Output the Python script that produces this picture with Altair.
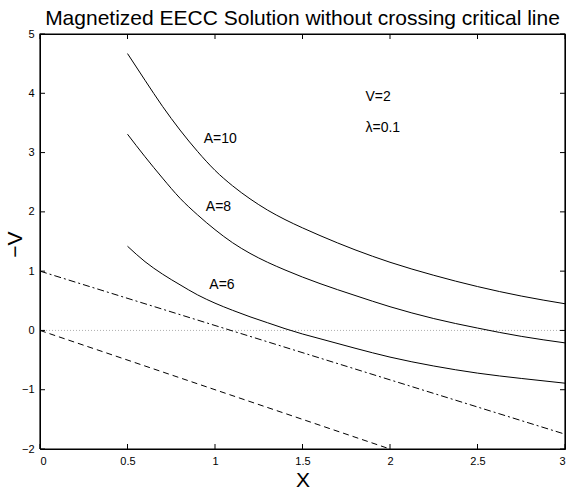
import altair as alt
import pandas as pd

# sample positions along X for the three solution curves
x_pts = [0.5, 0.6, 0.7, 0.8, 0.9, 1.0, 1.1, 1.2, 1.3, 1.4, 1.5, 1.6, 1.8, 2.0, 2.25, 2.5, 2.75, 3.0]
a10 = [4.67, 4.22, 3.78, 3.38, 3.02, 2.70, 2.44, 2.22, 2.03, 1.87, 1.73, 1.60, 1.36, 1.15, 0.93, 0.74, 0.58, 0.45]
a8 = [3.31, 2.93, 2.57, 2.23, 1.95, 1.70, 1.48, 1.30, 1.15, 1.02, 0.90, 0.79, 0.59, 0.40, 0.20, 0.04, -0.10, -0.21]
a6 = [1.42, 1.16, 0.95, 0.77, 0.60, 0.46, 0.34, 0.23, 0.13, 0.03, -0.06, -0.14, -0.30, -0.45, -0.60, -0.72, -0.81, -0.89]

# straight reference lines
dashdot_x = [0.0, 3.0]
dashdot_y = [1.0, -1.75]
dashed_x = [0.0, 2.0]
dashed_y = [0.0, -2.0]
zero_x = [0.0, 3.0]
zero_y = [0.0, 0.0]

# in-plot annotations
curve_labels = ["A=10", "A=8", "A=6"]
curve_label_x = [1.03, 1.02, 1.04]
curve_label_y = [3.23, 2.09, 0.76]
param_labels = ["V=2", "λ=0.1"]
param_label_x = [1.86, 1.86]
param_label_y = [3.93, 3.41]

x_ticks = [0, 0.5, 1, 1.5, 2, 2.5, 3]
y_ticks = [-2, -1, 0, 1, 2, 3, 4, 5]

FONT = "Liberation Sans"

curves = pd.DataFrame(
    [{"x": xv, "y": yv, "series": name}
     for name, ys in (("A=10", a10), ("A=8", a8), ("A=6", a6))
     for xv, yv in zip(x_pts, ys)]
)
dashdot = pd.DataFrame({"x": dashdot_x, "y": dashdot_y})
dashed = pd.DataFrame({"x": dashed_x, "y": dashed_y})
zero = pd.DataFrame({"x": zero_x, "y": zero_y})
curve_text = pd.DataFrame({"x": curve_label_x, "y": curve_label_y, "t": curve_labels})
param_text = pd.DataFrame({"x": param_label_x, "y": param_label_y, "t": param_labels})

# box edges as line segments: bottom, right, top, left
edge_x = [x_ticks[0], x_ticks[-1], x_ticks[-1], x_ticks[0], x_ticks[0]]
edge_y = [y_ticks[0], y_ticks[0], y_ticks[-1], y_ticks[-1], y_ticks[0]]
frame = pd.DataFrame({"x": edge_x, "y": edge_y, "order": list(range(len(edge_x)))})

xscale = alt.Scale(domain=[x_ticks[0], x_ticks[-1]], nice=False, zero=False)
yscale = alt.Scale(domain=[y_ticks[0], y_ticks[-1]], nice=False, zero=False)

x_axis = alt.Axis(
    title="X", values=x_ticks, format="~g", grid=False, ticks=False, domain=False,
    labelFont=FONT, labelFontSize=11, labelColor="black", labelPadding=6,
    titleFont=FONT, titleFontSize=21, titleFontWeight="normal", titleColor="black",
    titleBaseline="alphabetic", titleY=37,
)
y_axis = alt.Axis(
    title="−V", values=y_ticks, format="~g", grid=False, ticks=False, domain=False,
    labelFont=FONT, labelFontSize=11, labelColor="black", labelPadding=6,
    titleFont=FONT, titleFontSize=21, titleFontWeight="normal", titleColor="black",
    titleBaseline="middle", titleX=-25, titleY=210, titleAngle=-90,
)

X = alt.X("x:Q", scale=xscale, axis=x_axis)
Y = alt.Y("y:Q", scale=yscale, axis=y_axis)

# black box around the plot area
box = alt.Chart(frame).mark_line(color="black", strokeWidth=1.2, clip=False).encode(
    x=X, y=Y, order="order:Q"
)

lines = alt.Chart(curves).mark_line(color="black", strokeWidth=1, interpolate="monotone").encode(
    x=X, y=Y, detail="series:N"
)
dd = alt.Chart(dashdot).mark_line(color="black", strokeWidth=1, strokeDash=[7, 3, 2, 3]).encode(x=X, y=Y)
ds = alt.Chart(dashed).mark_line(color="black", strokeWidth=1, strokeDash=[6, 4]).encode(x=X, y=Y)
zl = alt.Chart(zero).mark_line(color="#b0b0b0", strokeWidth=1, strokeDash=[1, 2]).encode(x=X, y=Y)

ctext = alt.Chart(curve_text).mark_text(
    font=FONT, fontSize=14, color="black", align="center", baseline="middle"
).encode(x=X, y=Y, text="t:N")
ptext = alt.Chart(param_text).mark_text(
    font=FONT, fontSize=14, color="black", align="left", baseline="middle"
).encode(x=X, y=Y, text="t:N")

# inward tick marks on all four sides of the frame
bottom_ticks = pd.DataFrame({"x": x_ticks, "y": [y_ticks[0]] * len(x_ticks)})
top_ticks = pd.DataFrame({"x": x_ticks, "y": [y_ticks[-1]] * len(x_ticks)})
left_ticks = pd.DataFrame({"x": [x_ticks[0]] * len(y_ticks), "y": y_ticks})
right_ticks = pd.DataFrame({"x": [x_ticks[-1]] * len(y_ticks), "y": y_ticks})

TL = 5
tb = alt.Chart(bottom_ticks).mark_tick(orient="vertical", size=TL, thickness=1, color="black", opacity=1, yOffset=-TL / 2).encode(x=X, y=Y)
tt = alt.Chart(top_ticks).mark_tick(orient="vertical", size=TL, thickness=1, color="black", opacity=1, yOffset=TL / 2).encode(x=X, y=Y)
tl = alt.Chart(left_ticks).mark_tick(orient="horizontal", size=TL, thickness=1, color="black", opacity=1, xOffset=TL / 2).encode(x=X, y=Y)
tr = alt.Chart(right_ticks).mark_tick(orient="horizontal", size=TL, thickness=1, color="black", opacity=1, xOffset=-TL / 2).encode(x=X, y=Y)

chart = alt.layer(zl, dd, ds, lines, ctext, ptext, tb, tt, tl, tr, box).properties(
    width=525,
    height=415,
    autosize=alt.AutoSizeParams(type="none"),
    padding={"left": 40, "top": 34, "right": 2, "bottom": 40},
    title=alt.TitleParams(
        "Magnetized EECC Solution without crossing critical line",
        font=FONT, fontSize=21, fontWeight="normal", color="black",
        offset=5, dy=6, anchor="middle",
    ),
).configure(
    background="white",
    view=alt.ViewConfig(stroke="black", strokeWidth=1),
)

chart.save("out.html", embed_options={"renderer": "svg", "actions": False})
